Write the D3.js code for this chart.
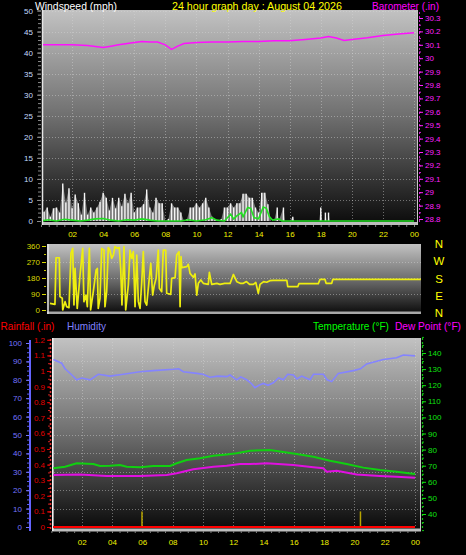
<!DOCTYPE html>
<html><head><meta charset="utf-8">
<script src="https://cdn.jsdelivr.net/npm/d3@7/dist/d3.min.js"></script>
<style>html,body{margin:0;padding:0;background:#000;overflow:hidden}</style>
</head><body>
<svg id="c" width="466" height="555" xmlns="http://www.w3.org/2000/svg"></svg>
<script>
// ---------- DATA ----------
const hourTicks  = [2,4,6,8,10,12,14,16,18,20,22,24];
const hourLabels = ["02","04","06","08","10","12","14","16","18","20","22","00"];
const windTicks  = [0,5,10,15,20,25,30,35,40,45,50];
const baroTicks  = [28.8,28.9,29.0,29.1,29.2,29.3,29.4,29.5,29.6,29.7,29.8,29.9,30.0,30.1,30.2,30.3];
const dirTicks   = [0,90,180,270,360];
const compassDeg = [360,270,180,90,0];
const compassLbl = ["N","W","S","E","N"];
const humTicks   = [0,10,20,30,40,50,60,70,80,90,100];
const rainTicks  = [0,0.1,0.2,0.3,0.4,0.5,0.6,0.7,0.8,0.9,1.0,1.1,1.2];
const tempTicks  = [40,50,60,70,80,90,100,110,120,130,140];

// [hour, inHg]
const barometer = [[0,30.10],[1,30.10],[2,30.10],[3,30.095],[3.5,30.087],[4,30.08],[4.5,30.09],[5,30.10],
 [6,30.117],[6.5,30.125],[7,30.12],[7.5,30.12],[8,30.10],[8.4,30.066],[8.8,30.09],[9.2,30.11],[10,30.117],
 [11,30.12],[12,30.12],[13,30.125],[14,30.125],[15,30.13],[16,30.13],[17,30.14],[17.5,30.145],[18,30.15],
 [18.5,30.162],[19,30.15],[19.5,30.132],[20,30.14],[21,30.153],[22,30.17],[23,30.18],[24,30.19]];

// [hour, mph] gusts
const windGust = [[0.2,2.2],[0.4,3.2],[0.6,1.0],[0.8,3.0],[1.0,3.2],[1.2,2.0],[1.4,8.9],[1.6,4.4],[1.8,7.8],
 [2.0,3.0],[2.2,6.3],[2.4,4.2],[2.6,1.5],[2.8,6.7],[3.0,1.5],[3.2,3.2],[3.4,2.0],[3.6,3.2],[3.8,4.6],
 [4.0,6.7],[4.2,5.5],[4.4,2.5],[4.6,5.5],[4.8,3.0],[5.0,5.5],[5.2,3.5],[5.4,6.5],[5.6,4.2],[5.8,6.7],
 [6.0,2.0],[6.2,3.2],[6.4,3.2],[6.6,4.0],[6.8,7.5],[7.0,3.2],[7.2,2.0],[7.4,5.5],[7.6,4.2],[7.8,4.2],
 [8.0,0],[8.2,0.5],[8.4,4.2],[8.6,3.2],[8.8,3.2],[9.0,2.0],[9.2,0],[9.4,0.5],[9.6,3.2],[9.8,3.2],
 [10.0,4.2],[10.2,3.2],[10.4,4.2],[10.6,5.5],[10.8,3.2],[11.0,1.0],[11.2,0.5],[11.4,0],[11.6,0.5],
 [11.8,3.2],[12.0,3.2],[12.2,4.2],[12.4,3.2],[12.6,4.2],[12.8,4.2],[13.0,6.5],[13.2,6.5],[13.4,5.5],
 [13.6,5.5],[13.8,3.2],[14.0,2.0],[14.2,6.7],[14.4,6.7],[14.6,4.0],[14.8,0],[15.0,0],[15.2,3.2],
 [15.3,0],[15.6,3.2],[15.7,0],[16.0,0],[16.2,1.0],[16.3,0],[17.9,0],[18.0,3.2],[18.1,0],[18.25,0],
 [18.3,2.0],[18.38,0],[18.45,0],[18.5,2.0],[18.58,0],[24,0]];

// [hour, mph] average
const windAvg = [[0,0],[0.5,0.3],[1,0],[1.5,0.4],[2,0.2],[2.5,0],[3,0.2],[3.5,0.5],[4,0.6],[4.5,0.2],
 [5,0],[5.5,0.3],[6,0.2],[6.5,0.5],[7,0.2],[7.5,0],[8,0],[9,0],[9.5,0.3],[10,0],[10.6,0.3],[11,0.8],
 [11.3,0.2],[11.8,0],[12.2,1.6],[12.4,0.5],[12.6,1.2],[12.9,2.0],[13.0,1.0],[13.3,3.2],[13.5,3.0],
 [13.7,0.8],[14.0,0.5],[14.3,3.3],[14.5,3.0],[14.7,1.0],[14.9,0.2],[15.3,0.5],[15.5,0],[24,0]];

// [hour, degrees]
const windDir = [[0.19,37],[0.51,32],[0.58,294],[0.79,294],[0.83,75],[0.98,66],[1.01,0],[1.16,47],[1.26,19],
 [1.41,13],[1.54,319],[1.65,347],[1.73,28],[1.80,234],[1.94,9],[2.12,197],[2.29,347],[2.37,47],[2.50,84],
 [2.59,19],[2.72,347],[2.80,0],[2.97,103],[3.15,225],[3.23,234],[3.29,9],[3.40,66],[3.51,347],[3.66,337],
 [3.72,19],[3.83,103],[3.93,351],[4.04,337],[4.15,291],[4.26,309],[4.36,356],[4.51,347],[4.64,351],
 [4.73,234],[4.81,28],[4.94,356],[5.05,0],[5.22,141],[5.33,337],[5.44,291],[5.54,328],[5.65,19],
 [5.76,309],[5.86,47],[5.97,9],[6.08,159],[6.18,328],[6.29,47],[6.40,28],[6.50,122],[6.66,262],
 [6.78,84],[6.89,141],[7.00,178],[7.14,337],[7.21,122],[7.36,103],[7.46,337],[7.62,337],[7.68,94],
 [7.94,88],[8.00,178],[8.22,182],[8.32,309],[8.47,328],[8.54,19],[8.60,300],[8.65,238],[8.97,244],
 [9.07,257],[9.18,206],[9.39,184],[9.50,203],[9.61,84],[9.71,150],[9.87,169],[10.03,150],[10.35,144],
 [10.42,212],[10.57,144],[10.9,150],[11.1,144],[11.4,150],[11.75,150],[11.96,200],[12.18,159],[12.4,150],
 [12.6,150],[12.8,160],[13.0,144],[13.24,144],[13.4,155],[13.56,94],[13.67,144],[13.9,160],[14.10,156],
 [14.3,165],[14.52,167],[15.39,167],[15.45,131],[16.09,131],[16.17,148],[17.41,148],[17.52,172],
 [17.84,172],[17.91,150],[18.27,150],[18.34,172],[23.99,172]];

// [hour, %]
const humidity = [[0.13,91],[0.68,89],[0.9,86],[1.3,83],[1.67,80],[2.0,81],[2.55,80],[3.1,83],[3.87,82],
 [4.75,83],[5.85,84.4],[6.73,85],[8.05,85.7],[8.4,86],[8.71,84.4],[9.59,83.5],[10.0,83],[10.47,81.4],
 [11.0,82],[11.57,81.7],[11.79,82.6],[12.23,80],[12.5,81.5],[12.89,80],[13.2,78],[13.44,75.7],[13.7,77],
 [13.99,78],[14.3,77],[14.65,78.4],[15.0,81],[15.31,80],[15.6,83],[15.97,82.6],[16.2,80.5],[16.52,82],
 [16.8,81],[17.07,80],[17.3,83],[17.95,83],[18.2,80],[18.5,79],[18.94,83.5],[19.93,85],[20.4,86],
 [20.81,88.6],[21.91,91],[22.79,92],[23.23,93.5],[24,93]];

// [hour, °F]
const temperature = [[0.13,68.4],[0.9,69.4],[1.67,71.5],[2.77,71],[3.21,69.8],[3.87,70],[4.53,70.4],
 [4.97,69.4],[5.85,69],[6.73,69.8],[7.83,69.8],[8.27,71.5],[8.93,73.5],[9.81,74.6],[10.69,76.2],
 [11.57,77],[12.23,77.7],[13.11,79.3],[14.43,79.8],[15.09,78.8],[16.19,77.3],[17.29,75.6],[18.39,73.1],
 [19.49,71],[20.59,68.8],[21.69,67.3],[22.79,66.3],[24,64.8]];

const dewPoint = [[0.13,64.2],[1.89,64.6],[3.65,63.6],[5.85,63.6],[7.61,64.2],[8.27,65.3],[9.37,67.8],
 [10.69,69.4],[11.57,70],[12.45,71],[13.11,71],[14.21,71.5],[15.97,70.4],[17.29,69],[17.95,68.4],
 [18.17,66.3],[18.83,66.9],[20.15,64.6],[21.69,63.6],[22.79,63.1],[24,62.5]];

// [hour, in]
const rainfall = [[0,0],[24,0]];
const rainRate = [[5.98,0.1],[20.4,0.1]];

// ---------- DRAWING ----------
const svg = d3.select("#c");
const FONT = "'Liberation Sans', Arial, sans-serif";
svg.append("rect").attr("width",466).attr("height",555).attr("fill","#000");

const defs = svg.append("defs");
const grad = defs.append("linearGradient").attr("id","bg").attr("x1",0).attr("y1",0).attr("x2",0).attr("y2",1);
grad.append("stop").attr("offset","0").attr("stop-color","#c2c2c2");
grad.append("stop").attr("offset","0.5").attr("stop-color","#6e6e6e");
grad.append("stop").attr("offset","1").attr("stop-color","#0a0a0a");

function title(txt, x, w, y, color){
  const t = svg.append("text").attr("x",x).attr("y",y).attr("fill",color)
    .style("font-family",FONT).style("font-size","12px").text(txt);
  const w0 = t.node().getComputedTextLength();
  if (w0 > w) t.style("font-size", (12*w/w0).toFixed(2)+"px");
}
function styleAxis(g, color, fs){
  g.select(".domain").remove();
  g.selectAll("line").attr("stroke",color);
  g.selectAll("text").attr("fill",color).style("font",`${fs||8}px ${FONT}`);
}
const gridStyle = sel => sel.attr("stroke","rgba(215,215,215,0.45)").attr("stroke-dasharray","1,2").attr("stroke-width",1);

// ===== Top panel: wind speed + barometer =====
const xT = d3.scaleLinear([0,24],[41,414]);
const yW = d3.scaleLinear([0,50],[221,10.5]);
const yB = d3.scaleLinear([28.8,30.3],[219,18]);

svg.append("rect").attr("x",42).attr("y",10).attr("width",376).attr("height",215).attr("fill","url(#bg)");
svg.append("rect").attr("x",42).attr("y",222).attr("width",376).attr("height",3).attr("fill","#bdbdbd");
svg.append("line").attr("x1",42.5).attr("x2",42.5).attr("y1",10).attr("y2",225).attr("stroke","#e6e6e6").attr("stroke-width",1.5);
svg.append("line").attr("x1",417.5).attr("x2",417.5).attr("y1",10).attr("y2",225).attr("stroke","#c8c8c8");

const gT = svg.append("g");
gT.selectAll(".hg").data(windTicks.slice(1)).join("line").attr("x1",43).attr("x2",417)
  .attr("y1",d=>Math.round(yW(d))+0.5).attr("y2",d=>Math.round(yW(d))+0.5).call(gridStyle);
gT.selectAll(".vg").data(hourTicks).join("line").attr("x1",d=>Math.round(xT(d))+0.5).attr("x2",d=>Math.round(xT(d))+0.5)
  .attr("y1",11).attr("y2",221).call(gridStyle);

// wind gust
const clipT = defs.append("clipPath").attr("id","clipT");
clipT.append("rect").attr("x",43).attr("y",10).attr("width",375).attr("height",213);
const wg = svg.append("g").attr("clip-path","url(#clipT)");
wg.append("path").datum(windGust).attr("fill","rgba(215,215,215,0.5)")
  .attr("d",d3.area().x(d=>xT(d[0])).y0(yW(0)).y1(d=>yW(d[1])));
wg.selectAll(".gb").data(windGust.filter(d=>d[1]>0)).join("line")
  .attr("x1",d=>xT(d[0])).attr("x2",d=>xT(d[0])).attr("y1",yW(0)).attr("y2",d=>yW(d[1]))
  .attr("stroke","#f6f6f6").attr("stroke-width",1.4);
wg.append("path").datum(windAvg).attr("fill","none").attr("stroke","#22e022").attr("stroke-width",1.6)
  .attr("d",d3.line().x(d=>xT(d[0])).y(d=>yW(d[1])));
wg.append("path").datum(barometer).attr("fill","none").attr("stroke","#ff10ff").attr("stroke-width",1.5)
  .attr("d",d3.line().x(d=>xT(d[0])).y(d=>yB(d[1])));

// axes top
svg.append("g").attr("transform","translate(41,0)")
  .call(d3.axisLeft(yW).tickValues(d3.range(0,51,1)).tickSize(3).tickFormat(""))
  .call(g=>styleAxis(g,"#8a8a8a"));
svg.append("g").attr("transform","translate(41,0)")
  .call(d3.axisLeft(yW).tickValues(windTicks).tickSize(4).tickPadding(4).tickFormat(d=>d))
  .call(g=>styleAxis(g,"#8a8a8a")).call(g=>g.selectAll("text").attr("fill","#c4dcff"));
svg.append("line").attr("x1",419.5).attr("x2",419.5).attr("y1",12).attr("y2",222).attr("stroke","#c020c0").attr("stroke-dasharray","2,2");
svg.append("g").attr("transform","translate(419,0)")
  .call(d3.axisRight(yB).tickValues(d3.range(28.8,30.31,0.05)).tickSize(2).tickFormat(""))
  .call(g=>styleAxis(g,"#e020e0"));
svg.append("g").attr("transform","translate(419,0)")
  .call(d3.axisRight(yB).tickValues(baroTicks).tickSize(4).tickPadding(2).tickFormat(d=>String(+d.toFixed(1))))
  .call(g=>styleAxis(g,"#ff20ff"));
svg.append("g").attr("transform","translate(0,225)")
  .call(d3.axisBottom(xT).tickValues(d3.range(0,24.01,0.5)).tickSize(2).tickFormat(""))
  .call(g=>styleAxis(g,"#808080"));
svg.append("g").attr("transform","translate(0,225)")
  .call(d3.axisBottom(xT).tickValues(hourTicks).tickSize(0).tickPadding(6).tickFormat((d,i)=>hourLabels[i]))
  .call(g=>styleAxis(g,"#f2f200"));

// ===== Middle panel: wind direction =====
const xM = d3.scaleLinear([0,24],[47,421]);
const yD = d3.scaleLinear([0,360],[310,246]);
const yC = d3.scaleLinear([0,360],[312.5,244.3]);
svg.append("rect").attr("x",47).attr("y",244).attr("width",374).attr("height",70).attr("fill","url(#bg)");
svg.append("rect").attr("x",47).attr("y",311.5).attr("width",374).attr("height",2.5).attr("fill","#a8a8a8");
svg.append("line").attr("x1",48).attr("x2",48).attr("y1",244).attr("y2",314).attr("stroke","#e6e6e6").attr("stroke-width",1.5);
svg.append("g").selectAll("line").data(dirTicks.slice(1,4)).join("line").attr("x1",48).attr("x2",421)
  .attr("y1",d=>Math.round(yD(d))+0.5).attr("y2",d=>Math.round(yD(d))+0.5).call(gridStyle);
const clipM = defs.append("clipPath").attr("id","clipM");
clipM.append("rect").attr("x",48).attr("y",244).attr("width",373).attr("height",70);
svg.append("g").attr("clip-path","url(#clipM)").append("path").datum(windDir)
  .attr("fill","none").attr("stroke","#eeee10").attr("stroke-width",1.7).attr("stroke-linejoin","round")
  .attr("d",d3.line().x(d=>xM(d[0])).y(d=>yD(d[1])));
svg.append("g").attr("transform","translate(46,0)")
  .call(d3.axisLeft(yD).tickValues(d3.range(0,361,45)).tickSize(2).tickFormat(""))
  .call(g=>styleAxis(g,"#c8c800"));
svg.append("g").attr("transform","translate(46,0)")
  .call(d3.axisLeft(yD).tickValues(dirTicks).tickSize(4).tickPadding(2).tickFormat(d=>d))
  .call(g=>styleAxis(g,"#d8d800"));
svg.append("g").selectAll("text").data(compassDeg).join("text")
  .attr("x",439).attr("y",d=>yC(d)).attr("dy","0.36em").attr("text-anchor","middle")
  .attr("fill","#ffff00").style("font",`11.5px ${FONT}`).text((d,i)=>compassLbl[i]);

// ===== Bottom panel: rain / humidity / temperature / dew point =====
const xB = d3.scaleLinear([0,24],[51.4,415]);
const yH = d3.scaleLinear([0,100],[527,343]);
const yR = d3.scaleLinear([0,1.2],[527,339.8]);
const yT = d3.scaleLinear([40,140],[514,353]);
svg.append("rect").attr("x",52).attr("y",338).attr("width",369).attr("height",191).attr("fill","url(#bg)");
svg.append("rect").attr("x",52).attr("y",528.5).attr("width",369).attr("height",3).attr("fill","#bdbdbd");
svg.append("line").attr("x1",52.8).attr("x2",52.8).attr("y1",338).attr("y2",531).attr("stroke","#f2f2f2").attr("stroke-width",1.6);
svg.append("line").attr("x1",420.5).attr("x2",420.5).attr("y1",338).attr("y2",531).attr("stroke","#c8c8c8");
const gB = svg.append("g");
gB.selectAll(".hg").data(humTicks.slice(1,10)).join("line").attr("x1",54).attr("x2",420)
  .attr("y1",d=>Math.round(yH(d))+0.5).attr("y2",d=>Math.round(yH(d))+0.5).call(gridStyle);
gB.selectAll(".vg").data(hourTicks).join("line").attr("x1",d=>Math.round(xB(d))+0.5).attr("x2",d=>Math.round(xB(d))+0.5)
  .attr("y1",339).attr("y2",527).call(gridStyle);

const clipB = defs.append("clipPath").attr("id","clipB");
clipB.append("rect").attr("x",53).attr("y",338).attr("width",367).attr("height",191);
const lb = svg.append("g").attr("clip-path","url(#clipB)");
lb.selectAll(".rr").data(rainRate).join("line").attr("x1",d=>xB(d[0])).attr("x2",d=>xB(d[0]))
  .attr("y1",yR(0)).attr("y2",d=>yR(d[1])).attr("stroke","#b8a400").attr("stroke-width",1.5);
lb.append("path").datum(humidity).attr("fill","none").attr("stroke","#8484ff").attr("stroke-width",1.6)
  .attr("d",d3.line().x(d=>xB(d[0])).y(d=>yH(d[1])));
lb.append("path").datum(temperature).attr("fill","none").attr("stroke","#10d010").attr("stroke-width",2)
  .attr("d",d3.line().x(d=>xB(d[0])).y(d=>yT(d[1])));
lb.append("path").datum(dewPoint).attr("fill","none").attr("stroke","#e010e0").attr("stroke-width",2)
  .attr("d",d3.line().x(d=>xB(d[0])).y(d=>yT(d[1])));
lb.append("path").datum(rainfall).attr("fill","none").attr("stroke","#ff0000").attr("stroke-width",2.2)
  .attr("d",d3.line().x(d=>xB(d[0])).y(d=>yR(d[1])));

// humidity axis
svg.append("line").attr("x1",30).attr("x2",30).attr("y1",340).attr("y2",531).attr("stroke","#6464ff").attr("stroke-width",2);
svg.append("g").attr("transform","translate(29,0)")
  .call(d3.axisLeft(yH).tickValues(d3.range(0,100.1,2.5)).tickSize(2).tickFormat(""))
  .call(g=>styleAxis(g,"#5a5aee"));
svg.append("g").attr("transform","translate(29,0)")
  .call(d3.axisLeft(yH).tickValues(humTicks).tickSize(3).tickPadding(4).tickFormat(d=>d))
  .call(g=>styleAxis(g,"#7474ff"));
// rain axis
svg.append("line").attr("x1",50.5).attr("x2",50.5).attr("y1",339).attr("y2",529).attr("stroke","#e03030").attr("stroke-dasharray","2,2").attr("stroke-width",1.5);
svg.append("g").attr("transform","translate(50,0)")
  .call(d3.axisLeft(yR).tickValues(d3.range(0,1.201,0.05)).tickSize(2).tickFormat(""))
  .call(g=>styleAxis(g,"#d02020"));
svg.append("g").attr("transform","translate(50,0)")
  .call(d3.axisLeft(yR).tickValues(rainTicks).tickSize(3).tickPadding(2).tickFormat(d=>String(+d.toFixed(1))))
  .call(g=>styleAxis(g,"#e00000"));
// temperature axis
svg.append("line").attr("x1",422.5).attr("x2",422.5).attr("y1",338).attr("y2",530).attr("stroke","#10c010").attr("stroke-dasharray","2,2").attr("stroke-width",1.2);
svg.append("g").attr("transform","translate(422,0)")
  .call(d3.axisRight(yT).tickValues(d3.range(30,150.1,5)).tickSize(2).tickFormat(""))
  .call(g=>styleAxis(g,"#10c010"));
svg.append("g").attr("transform","translate(422,0)")
  .call(d3.axisRight(yT).tickValues(tempTicks).tickSize(4).tickPadding(2).tickFormat(d=>d))
  .call(g=>styleAxis(g,"#10e010"));
// bottom x axis
svg.append("g").attr("transform","translate(0,531)")
  .call(d3.axisBottom(xB).tickValues(d3.range(0,24.01,0.5)).tickSize(2).tickFormat(""))
  .call(g=>styleAxis(g,"#808080"));
svg.append("g").attr("transform","translate(0,531)")
  .call(d3.axisBottom(xB).tickValues(hourTicks).tickSize(0).tickPadding(8.3).tickFormat((d,i)=>hourLabels[i]))
  .call(g=>styleAxis(g,"#f2f200"));

// ===== Titles =====
title("Windspeed (mph)", 35, 82, 10, "#ffffff");
title("24 hour graph day : August 04 2026", 172, 170, 10, "#ffff00");
title("Barometer (.in)", 372, 67, 10, "#ff00ff");
title("Rainfall (.in)", 0.5, 54, 330, "#ff0000");
title("Humidity", 67, 39, 330, "#8080ff");
title("Temperature (°F)", 313, 76, 330, "#00ff00");
title("Dew Point (°F)", 395, 66, 330, "#ff00ff");
</script>
</body></html>
